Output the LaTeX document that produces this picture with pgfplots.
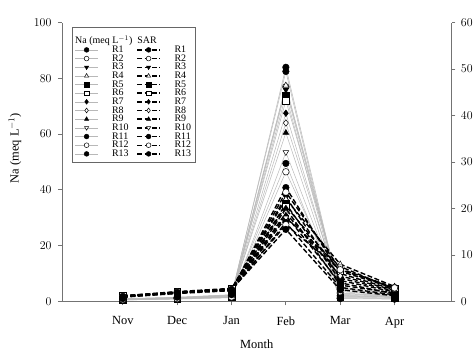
\documentclass[border=0pt]{standalone}
\usepackage{fontspec}
\setmainfont{Liberation Serif}
\usepackage{pgfplots}
\pgfplotsset{compat=1.18}
\usepackage{pgfplotstable}

\pgfplotstableread{
x R1 R2 R3 R4 R5 R6 R7 R8 R9 R10 R11 R12 R13
1 0.8 0.6 0.7 0.9 0.5 0.8 0.7 0.6 0.9 0.5 0.8 0.6 1.0
2 1.2 1.0 1.1 1.3 0.9 1.2 1.0 1.1 1.4 0.8 1.2 1.0 1.5
3 2.0 1.6 1.8 2.2 1.4 1.9 1.7 1.5 2.3 1.3 2.1 1.6 2.4
4 84.0 77.0 76.0 77.5 74.0 72.0 67.5 64.0 60.5 53.5 49.5 46.5 82.5
5 2.0 3.0 2.5 4.0 1.5 5.0 2.2 3.5 1.8 2.8 1.2 4.5 1.0
6 1.5 2.0 1.8 2.5 1.2 3.0 1.6 2.2 1.4 1.9 1.0 2.8 0.8
}\Na

\pgfplotstableread{
x R1 R2 R3 R4 R5 R6 R7 R8 R9 R10 R11 R12 R13
1 1.0 1.1 1.2 1.0 1.1 1.2 1.0 1.1 1.2 1.0 0.9 1.1 1.0
2 1.8 1.9 2.0 1.9 1.8 2.1 1.8 2.0 1.9 1.8 1.7 2.0 1.9
3 2.4 2.5 2.7 2.6 2.5 2.8 2.4 2.6 2.7 2.5 2.3 2.6 2.5
4 24.5 23.5 22.5 22.0 21.0 20.5 20.0 19.0 18.5 18.0 17.0 16.5 15.5
5 6.0 7.0 5.0 8.0 4.5 6.5 3.5 5.5 4.0 7.5 3.0 6.8 2.5
6 2.5 3.0 2.2 3.2 2.0 2.8 1.8 2.4 1.6 2.6 1.4 2.9 1.2
}\SAR

\pgfplotsset{
  mkbase/.style={mark options={solid, line width=0.5pt, draw=black, fill=#1}},
  mk1/.style={mark=*, mkbase=black},
  mk2/.style={mark=*, mkbase=white},
  mk3/.style={mark=triangle*, mark options={solid, line width=0.5pt, draw=black, fill=black, rotate=180}},
  mk4/.style={mark=triangle*, mkbase=white},
  mk5/.style={mark=square*, mkbase=black},
  mk6/.style={mark=square*, mkbase=white},
  mk7/.style={mark=diamond*, mkbase=black},
  mk8/.style={mark=diamond*, mkbase=white},
  mk9/.style={mark=triangle*, mkbase=black},
  mk10/.style={mark=triangle*, mark options={solid, line width=0.5pt, draw=black, fill=white, rotate=180}},
  mk11/.style={mark=*, mkbase=black},
  mk12/.style={mark=*, mkbase=white},
  mk13/.style={mark=*, mkbase=black},
  naline/.style={color=black!28, line width=0.5pt, solid, mark size=3.3pt},
  sarline/.style={color=black, line width=1.4pt, dash pattern=on 5pt off 2.5pt, mark size=3.3pt},
  common/.style={
    scale only axis, width=390bp, height=279bp,
    xmin=-0.121, xmax=7.048,
    font=\fontsize{12.5}{14}\selectfont,
    tick label style={font=\fontsize{12.5}{14}\selectfont},
    label style={font=\fontsize{12.5}{14}\selectfont},
    axis line style={black!55, line width=0.8pt},
    tick style={black!55, line width=0.8pt},
    tick align=outside, major tick length=4pt,
  },
}

\begin{document}
\begin{tikzpicture}
\begin{axis}[common,
  axis x line*=bottom, axis y line*=left,
  ymin=0, ymax=100, ytick={0,20,...,100},
  xtick={1,...,6}, xticklabels={Nov,Dec,Jan,Feb,Mar,Apr},
  xticklabel style={yshift=-8pt},
  yticklabel style={xshift=-3pt},
  xlabel={Month}, ylabel={Na (meq L$^{-1}$)},
  xlabel style={at={(axis description cs:0.5,0)}, anchor=center, yshift=-43bp},
  ylabel style={at={(axis description cs:-0.1205,0.55)}, anchor=center},
]
\coordinate (topL) at (rel axis cs:0,1);
\addplot[naline, mk1] table[y=R1]{\Na};
\addplot[naline, mk2] table[y=R2]{\Na};
\addplot[naline, mk3] table[y=R3]{\Na};
\addplot[naline, mk4] table[y=R4]{\Na};
\addplot[naline, mk5] table[y=R5]{\Na};
\addplot[naline, mk6] table[y=R6]{\Na};
\addplot[naline, mk7] table[y=R7]{\Na};
\addplot[naline, mk8] table[y=R8]{\Na};
\addplot[naline, mk9] table[y=R9]{\Na};
\addplot[naline, mk10] table[y=R10]{\Na};
\addplot[naline, mk11] table[y=R11]{\Na};
\addplot[naline, mk12] table[y=R12]{\Na};
\addplot[naline, mk13] table[y=R13]{\Na};
\end{axis}
\begin{axis}[common,
  axis x line=none, axis y line*=right,
  ymin=0, ymax=60, ytick={0,10,...,60},
  yticklabel style={xshift=2pt},
  legend columns=2,
  legend style={at={(0.025,0.985)}, anchor=north west, draw=black!60,
    font=\fontsize{10}{9}\selectfont, row sep=-1.0pt,
    nodes={inner sep=0.8pt},
    inner xsep=3pt, inner ysep=3pt,
    /tikz/every odd column/.append style={column sep=13pt},
    /tikz/every even column/.append style={column sep=7pt}},
  legend cell align=left,
  legend image code/.code={\draw[mark repeat=2,mark phase=2] plot coordinates {(0bp,0bp) (11.5bp,0bp) (23bp,0bp)};},
]
\addplot[sarline, mk1, forget plot] table[y=R1]{\SAR};
\addplot[sarline, mk2, forget plot] table[y=R2]{\SAR};
\addplot[sarline, mk3, forget plot] table[y=R3]{\SAR};
\addplot[sarline, mk4, forget plot] table[y=R4]{\SAR};
\addplot[sarline, mk5, forget plot] table[y=R5]{\SAR};
\addplot[sarline, mk6, forget plot] table[y=R6]{\SAR};
\addplot[sarline, mk7, forget plot] table[y=R7]{\SAR};
\addplot[sarline, mk8, forget plot] table[y=R8]{\SAR};
\addplot[sarline, mk9, forget plot] table[y=R9]{\SAR};
\addplot[sarline, mk10, forget plot] table[y=R10]{\SAR};
\addplot[sarline, mk11, forget plot] table[y=R11]{\SAR};
\addplot[sarline, mk12, forget plot] table[y=R12]{\SAR};
\addplot[sarline, mk13, forget plot] table[y=R13]{\SAR};
\addlegendimage{empty legend}\addlegendentry{\rule{0pt}{13pt}\makebox[0pt][l]{\hspace{-37pt}Na (meq L$^{-1}$)\hspace{5pt}SAR}}
\addlegendimage{empty legend}\addlegendentry{}
\addlegendimage{naline, mk1, mark size=2.4pt}\addlegendentry{R1}
\addlegendimage{sarline, mk1, mark size=2.4pt}\addlegendentry{R1}
\addlegendimage{naline, mk2, mark size=2.4pt}\addlegendentry{R2}
\addlegendimage{sarline, mk2, mark size=2.4pt}\addlegendentry{R2}
\addlegendimage{naline, mk3, mark size=2.4pt}\addlegendentry{R3}
\addlegendimage{sarline, mk3, mark size=2.4pt}\addlegendentry{R3}
\addlegendimage{naline, mk4, mark size=2.4pt}\addlegendentry{R4}
\addlegendimage{sarline, mk4, mark size=2.4pt}\addlegendentry{R4}
\addlegendimage{naline, mk5, mark size=2.4pt}\addlegendentry{R5}
\addlegendimage{sarline, mk5, mark size=2.4pt}\addlegendentry{R5}
\addlegendimage{naline, mk6, mark size=2.4pt}\addlegendentry{R6}
\addlegendimage{sarline, mk6, mark size=2.4pt}\addlegendentry{R6}
\addlegendimage{naline, mk7, mark size=2.4pt}\addlegendentry{R7}
\addlegendimage{sarline, mk7, mark size=2.4pt}\addlegendentry{R7}
\addlegendimage{naline, mk8, mark size=2.4pt}\addlegendentry{R8}
\addlegendimage{sarline, mk8, mark size=2.4pt}\addlegendentry{R8}
\addlegendimage{naline, mk9, mark size=2.4pt}\addlegendentry{R9}
\addlegendimage{sarline, mk9, mark size=2.4pt}\addlegendentry{R9}
\addlegendimage{naline, mk10, mark size=2.4pt}\addlegendentry{R10}
\addlegendimage{sarline, mk10, mark size=2.4pt}\addlegendentry{R10}
\addlegendimage{naline, mk11, mark size=2.4pt}\addlegendentry{R11}
\addlegendimage{sarline, mk11, mark size=2.4pt}\addlegendentry{R11}
\addlegendimage{naline, mk12, mark size=2.4pt}\addlegendentry{R12}
\addlegendimage{sarline, mk12, mark size=2.4pt}\addlegendentry{R12}
\addlegendimage{naline, mk13, mark size=2.4pt}\addlegendentry{R13}
\addlegendimage{sarline, mk13, mark size=2.4pt}\addlegendentry{R13}
\end{axis}
\path ([xshift=-62bp,yshift=22.7bp]topL) ([xshift=414bp,yshift=-326.3bp]topL);
\end{tikzpicture}
\end{document}
